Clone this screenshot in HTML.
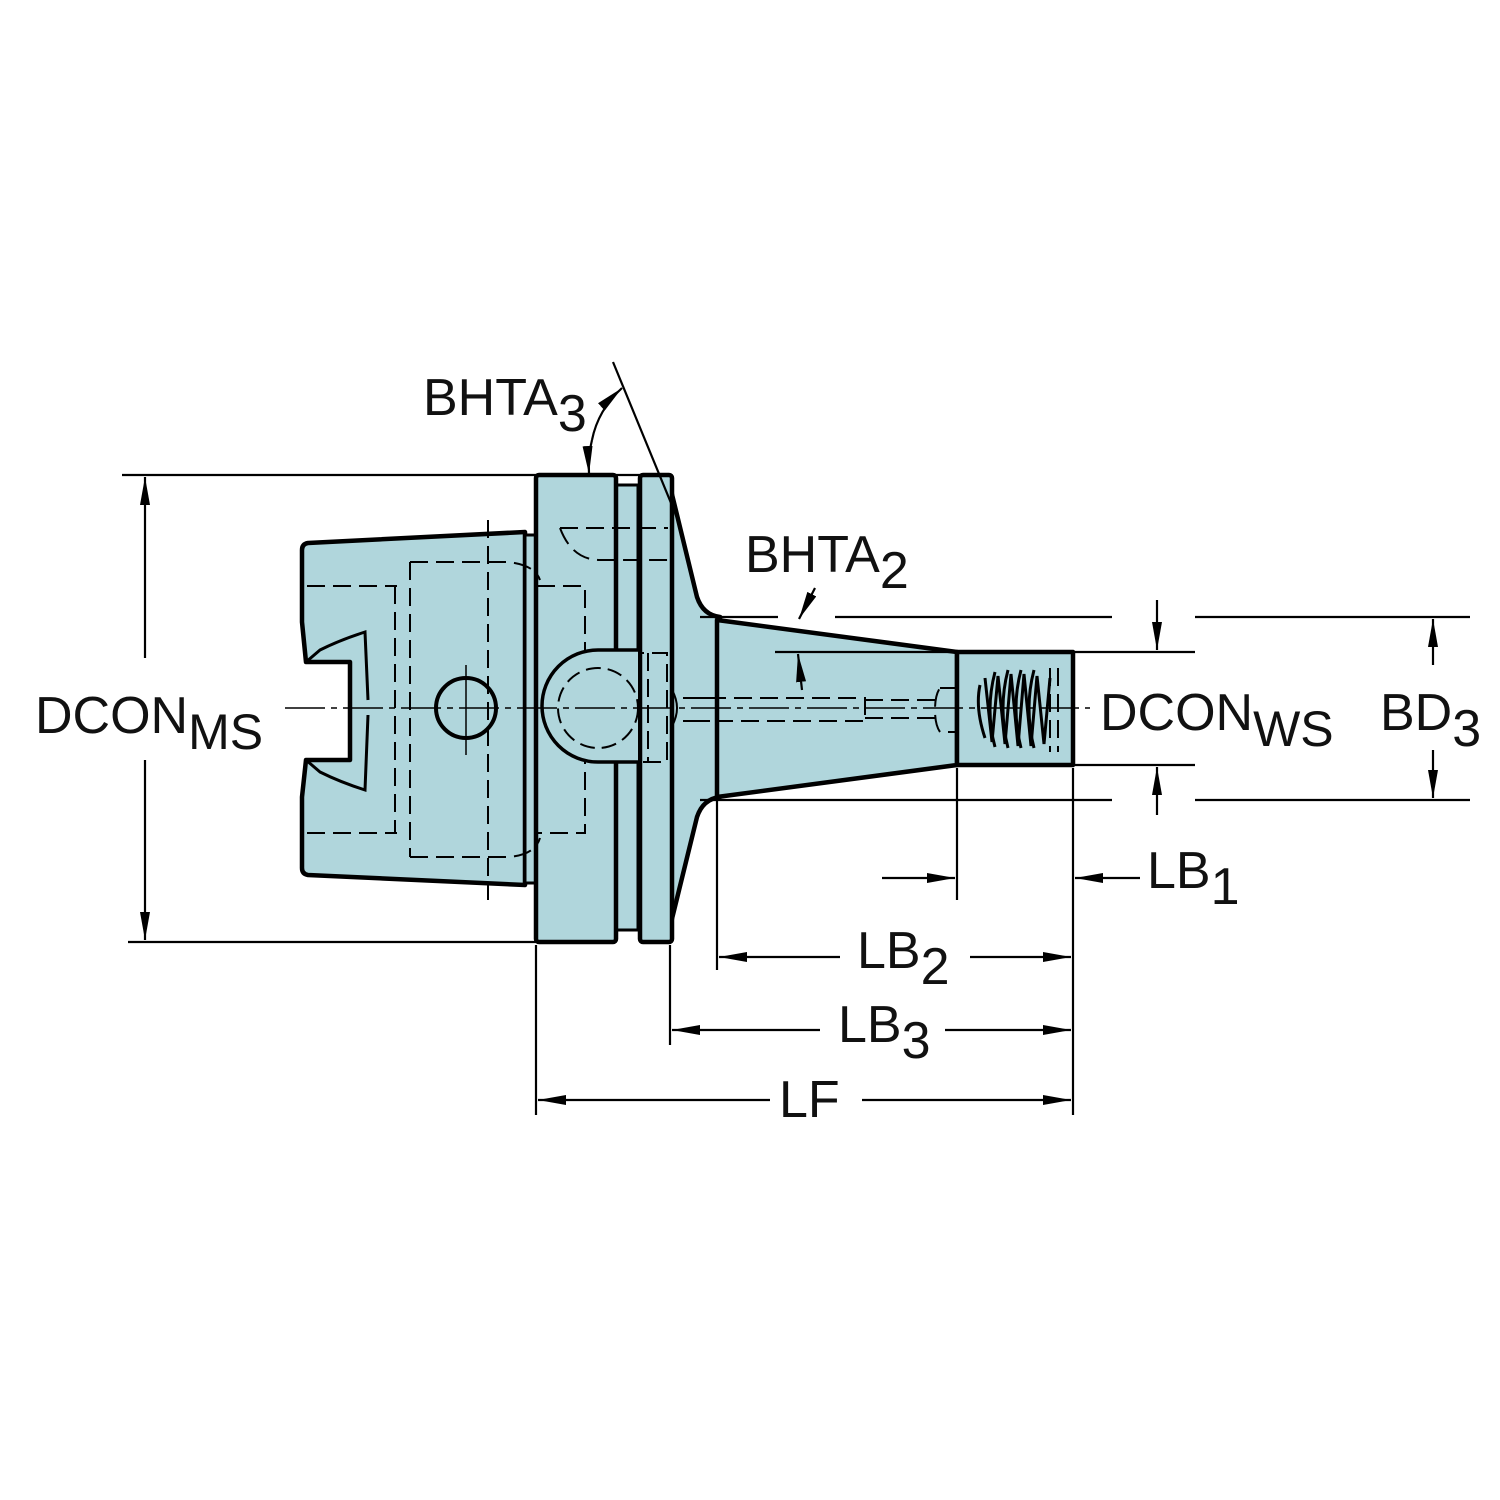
<!DOCTYPE html>
<html><head><style>body{margin:0;background:#fff}svg{display:block}</style></head><body>
<svg width="1500" height="1500" viewBox="0 0 1500 1500" xmlns="http://www.w3.org/2000/svg">
<defs>
<marker id="a" viewBox="0 0 28 10" refX="28" refY="5" markerWidth="28" markerHeight="10" markerUnits="userSpaceOnUse" orient="auto"><path d="M0,0 L28,5 L0,10 z" fill="#000"/></marker>
</defs>
<g fill="#b0d6dc" stroke="#000" stroke-width="4.5" stroke-linejoin="round">
<path d="M308,543 L525,532 L525,885 L308,875 Q302,874 302,868 L302,797 L306,760 L350,760 L350,662 L306,662 L302,622 L302,550 Q302,544 308,543 Z"/>
<rect x="525" y="535" width="12" height="348" stroke-width="3"/>
<path d="M668,478 L697,597 Q703,615 720,617 L720,797 Q703,799 697,817 L668,935 Z"/>
<path d="M717,620 L957,652 L957,765 L717,797 Z"/>
<rect x="957" y="652" width="116" height="113"/>
<rect x="616" y="485" width="22" height="445" stroke-width="3"/>
<rect x="536" y="475" width="80" height="467" rx="3"/>
<rect x="640" y="475" width="32" height="467" rx="3"/>
</g>
<g fill="none" stroke="#000">
<path d="M306,662 L320,650 Q340,640 365,632 L368,700 M306,760 L320,772 Q340,782 365,790 L368,715" stroke-width="3"/>
<g stroke-width="2" stroke-dasharray="18,8">
<path d="M307,586 L397,586 M307,833 L397,833 M395,586 L395,833 M410,562 L508,562 Q535,565 540,580 M410,857 L508,857 Q535,855 540,838 M410,562 L410,857 M488,520 L488,900"/>
<path d="M537,586 L585,586 L585,833 L537,833 M560,528 Q572,560 600,560 L668,560 M560,528 L668,528"/>
<path d="M600,653 L667,653 L667,762 L600,762 M625,653 L625,762 M648,653 L648,762"/>
<path d="M708,698 L865,698 L865,721 L708,721 M865,700 L935,700 M865,718 L935,718 M940,688 L957,688 L957,732 L940,732 Q935,725 935,710 Q935,695 940,688"/>
<path d="M1058,668 L1058,752 M1050,668 L1050,752"/>
</g>
<circle cx="466" cy="708" r="30" stroke-width="4"/>
<path d="M638,650 L598,650 A56,56 0 0,0 598,762 L638,762" stroke-width="3.5" fill="#b0d6dc"/>
<circle cx="598" cy="708" r="40" stroke-width="2" stroke-dasharray="15,7"/>
<path d="M672,690 Q682,708 672,726 M683,698 L710,698 M683,721 L710,721" stroke-width="2"/>
<g stroke-width="3">
<path d="M985,678 L992,742 L998,676 L1005,744 L1011,674 L1018,746 L1024,674 L1031,746 L1037,676 L1044,744 L1050,678"/>
<path d="M980,685 Q975,708 985,738 M995,672 Q985,710 995,747 M1008,670 Q998,708 1008,748 M1021,670 Q1011,708 1021,748 M1034,670 Q1024,708 1034,748"/>
</g>
<path d="M285,708 L1090,708" stroke-width="1.5" stroke-dasharray="40,6,6,6"/>
<path d="M466,665 L466,755" stroke-width="1.5"/>
<g stroke-width="2.2">
<path d="M122,475 L672,475 M128,942 L536,942"/>
<path d="M145,760 L145,940" marker-end="url(#a)"/><path d="M145,658 L145,477" marker-end="url(#a)"/>
<path d="M613,362 L678,520"/>
<path d="M700,617 L778,617 M835,617 L1112,617 M700,800 L1112,800 M775,652 L958,652"/>
<path d="M1075,652 L1195,652 M1075,765 L1195,765 M1195,617 L1470,617 M1195,800 L1470,800"/>
<path d="M1157,600 L1157,650" marker-end="url(#a)"/><path d="M1157,815 L1157,767" marker-end="url(#a)"/>
<path d="M1433,665 L1433,619" marker-end="url(#a)"/><path d="M1433,750 L1433,798" marker-end="url(#a)"/>
<path d="M536,945 L536,1115 M1073,768 L1073,1115 M670,945 L670,1045 M717,800 L717,970 M957,768 L957,900"/>
<path d="M770,1100 L538,1100" marker-end="url(#a)"/><path d="M862,1100 L1071,1100" marker-end="url(#a)"/>
<path d="M820,1030 L672,1030" marker-end="url(#a)"/><path d="M945,1030 L1071,1030" marker-end="url(#a)"/>
<path d="M840,957 L719,957" marker-end="url(#a)"/><path d="M970,957 L1071,957" marker-end="url(#a)"/>
<path d="M882,878 L955,878" marker-end="url(#a)"/><path d="M1140,878 L1075,878" marker-end="url(#a)"/>
<path d="M815,588 L799,619" marker-end="url(#a)"/><path d="M802,690 L798,654" marker-end="url(#a)"/>
<path d="M592,440 Q598,410 622,388" marker-end="url(#a)"/><path d="M592,440 Q588,455 589,474" marker-end="url(#a)"/>
</g>
</g>
<g font-family="Liberation Sans, sans-serif" font-size="52" fill="#111">
<text x="35" y="733">DCON<tspan font-size="50" dy="16">MS</tspan></text>
<text x="423" y="415">BHTA<tspan dy="16">3</tspan></text>
<text x="745" y="572">BHTA<tspan dy="16">2</tspan></text>
<text x="1100" y="730">DCON<tspan font-size="50" dy="16">WS</tspan></text>
<text x="1380" y="730">BD<tspan dy="16">3</tspan></text>
<text x="1147" y="888">LB<tspan dy="16">1</tspan></text>
<text x="857" y="968">LB<tspan dy="16">2</tspan></text>
<text x="838" y="1042">LB<tspan dy="16">3</tspan></text>
<text x="779" y="1117">LF</text>
</g>
</svg>
</body></html>
